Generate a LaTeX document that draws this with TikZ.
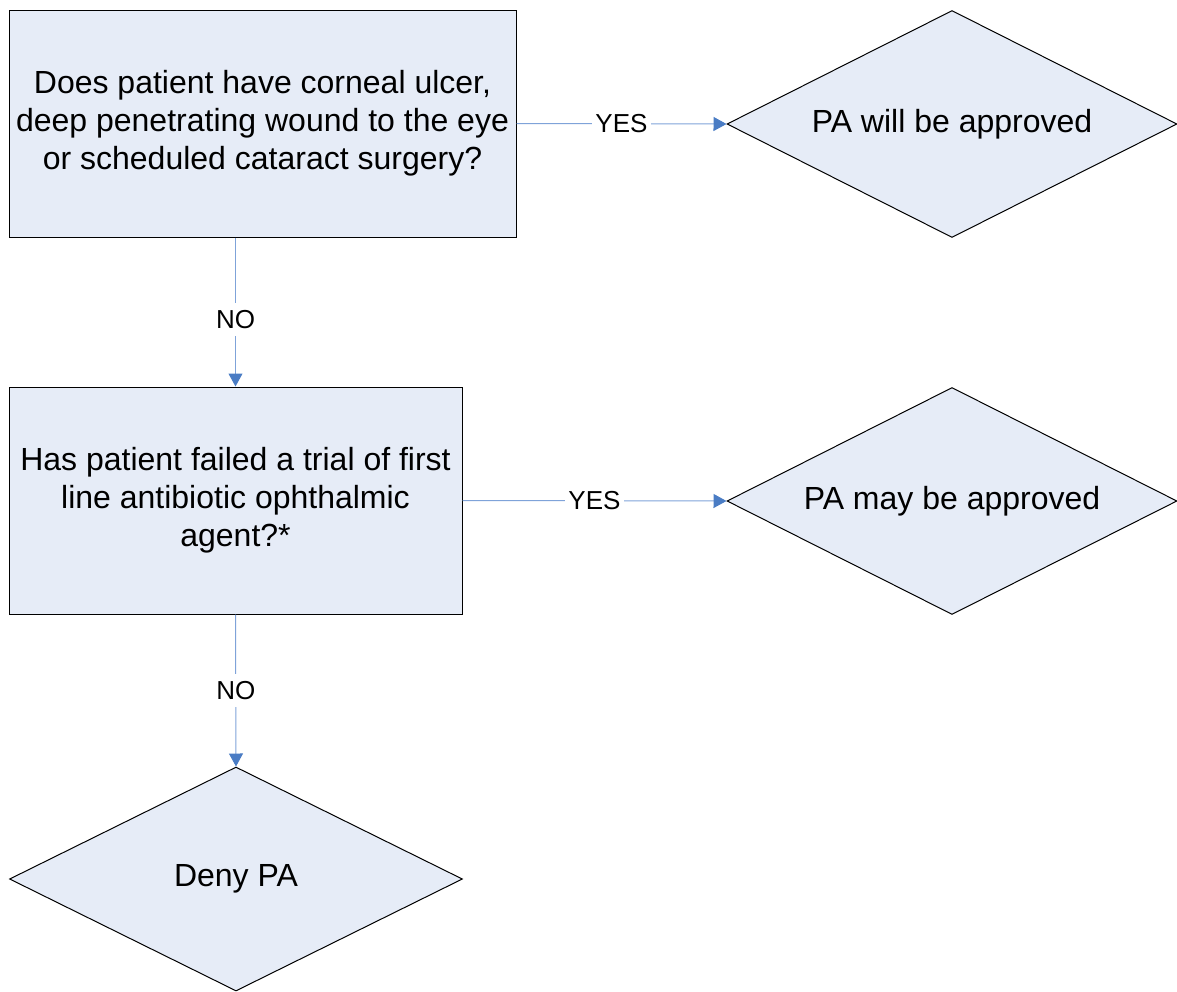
\documentclass[tikz,border=0pt]{standalone}
\usepackage{fontspec}
\setmainfont{Liberation Sans}
\usetikzlibrary{shapes.geometric,arrows.meta}
\definecolor{boxfill}{HTML}{E6ECF7}
\definecolor{linkblue}{HTML}{7FA3D9}
\definecolor{tipblue}{HTML}{4A7CC4}
\tikzset{
  qbox/.style={draw=black, line width=1pt, fill=boxfill, rectangle, inner sep=0pt,
    minimum height=227pt, align=center, font=\fontsize{32}{38}\selectfont},
  rbox/.style={draw=black, line width=1pt, fill=boxfill, diamond, aspect=1.98, inner sep=0pt,
    align=center, font=\fontsize{32}{38}\selectfont},
  link/.style={draw=linkblue, line width=1pt, -{Triangle[length=13pt,width=14pt,color=tipblue]}},
  lbl/.style={fill=white, inner xsep=3pt, inner ysep=7pt, font=\fontsize{26}{30}\selectfont}
}
\begin{document}
\begin{tikzpicture}[x=1pt,y=-1pt]
\useasboundingbox (0,0) rectangle (1177,991);
\node[qbox, minimum width=507pt] (q1) at (262.5,123.5) {Does patient have corneal ulcer,\\deep penetrating wound to the eye\\or scheduled cataract surgery?};
\node[rbox, minimum width=450pt, minimum height=227pt] (r1) at (952,124) {PA will be approved};
\node[qbox, minimum width=453pt] (q2) at (235.5,500.5) {Has patient failed a trial of first\\line antibiotic ophthalmic\\agent?*};
\node[rbox, minimum width=450pt, minimum height=227pt] (r2) at (952,501) {PA may be approved};
\node[rbox, minimum width=453pt, minimum height=224pt] (r3) at (236,879) {Deny PA};
\draw[link] (q1.east) -- node[lbl] {YES} (r1.west);
\draw[link] (q1.south -| q2.north) -- node[lbl, pos=0.55] {NO} (q2.north);
\draw[link] (q2.east) -- node[lbl] {YES} (r2.west);
\draw[link] (q2.south) -- node[lbl] {NO} (r3.north);
\end{tikzpicture}
\end{document}
